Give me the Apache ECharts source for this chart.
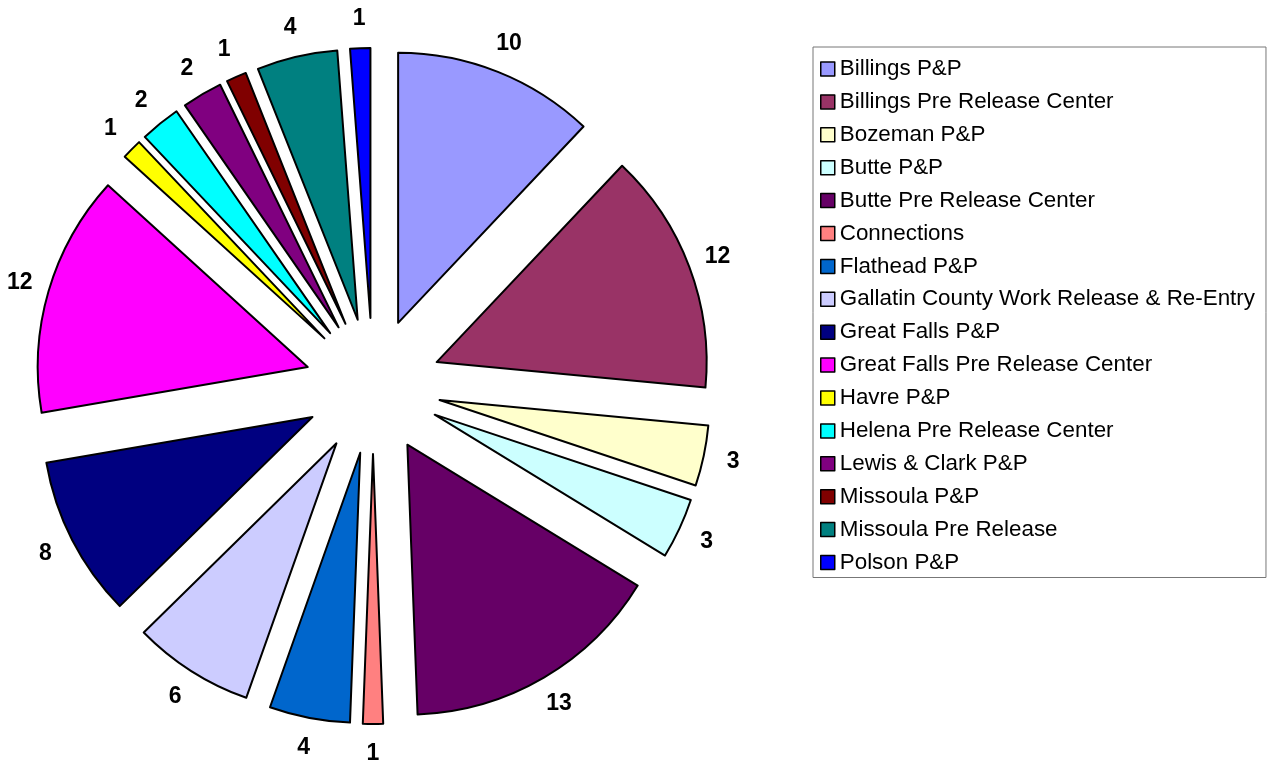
<!DOCTYPE html>
<html>
<head>
<meta charset="utf-8">
<script src="https://cdn.jsdelivr.net/npm/echarts@6/dist/echarts.min.js"></script>
<style>
  html, body { margin: 0; padding: 0; background: #fff; }
  #chart { width: 1267px; height: 763px; }
</style>
</head>
<body>
<div id="chart"></div>
<script>
// facility names, counts and slice colours
const names = [
  "Billings P&P",
  "Billings Pre Release Center",
  "Bozeman P&P",
  "Butte P&P",
  "Butte Pre Release Center",
  "Connections",
  "Flathead P&P",
  "Gallatin County Work Release & Re-Entry",
  "Great Falls P&P",
  "Great Falls Pre Release Center",
  "Havre P&P",
  "Helena Pre Release Center",
  "Lewis & Clark P&P",
  "Missoula P&P",
  "Missoula Pre Release",
  "Polson P&P"
];
const counts = [10, 12, 3, 3, 13, 1, 4, 6, 8, 12, 1, 2, 2, 1, 4, 1];
const colors = [
  "#9999FF", "#993366", "#FFFFCC", "#CCFFFF", "#660066", "#FF8080",
  "#0066CC", "#CCCCFF", "#000080", "#FF00FF", "#FFFF00", "#00FFFF",
  "#800080", "#800000", "#008080", "#0000FF"
];

const center = [373, 386];
const font = "'Liberation Sans', Arial, sans-serif";

const chart = echarts.init(document.getElementById("chart"));

const sliceData = names.map((n, i) => ({
  name: n,
  value: counts[i],
  selected: true,
  itemStyle: { color: colors[i] }
}));

// same values again, invisible, only to place the number labels
const labelData = names.map((n, i) => ({
  name: n,
  value: counts[i]
}));

chart.setOption({
  animation: false,
  legend: {
    orient: "vertical",
    left: 813,
    top: 47,
    data: names,
    padding: [10, 11, 3, 7],
    itemGap: 8.9,
    itemWidth: 14,
    itemHeight: 14,
    icon: "rect",
    borderColor: "#777",
    borderWidth: 1,
    selectedMode: false,
    itemStyle: { borderColor: "#000", borderWidth: 1.5 },
    textStyle: {
      fontFamily: font,
      fontSize: 22.4,
      lineHeight: 24,
      color: "#000"
    }
  },
  series: [
    {
      type: "pie",
      center: center,
      radius: [0, 270],
      startAngle: 90,
      clockwise: true,
      selectedMode: "multiple",
      selectedOffset: 68,
      avoidLabelOverlap: false,
      silent: true,
      itemStyle: { borderColor: "#000", borderWidth: 2 },
      label: { show: false },
      labelLine: { show: false },
      emphasis: { disabled: true },
      data: sliceData
    },
    {
      type: "pie",
      center: center,
      radius: [350, 380],
      startAngle: 90,
      clockwise: true,
      silent: true,
      avoidLabelOverlap: false,
      legendHoverLink: false,
      itemStyle: { color: "rgba(0,0,0,0)", borderWidth: 0 },
      label: {
        show: true,
        position: "inside",
        formatter: "{c}",
        color: "#000",
        fontWeight: "bold",
        fontSize: 23,
        fontFamily: font
      },
      labelLine: { show: false },
      emphasis: { disabled: true },
      data: labelData
    }
  ]
});
</script>
</body>
</html>
